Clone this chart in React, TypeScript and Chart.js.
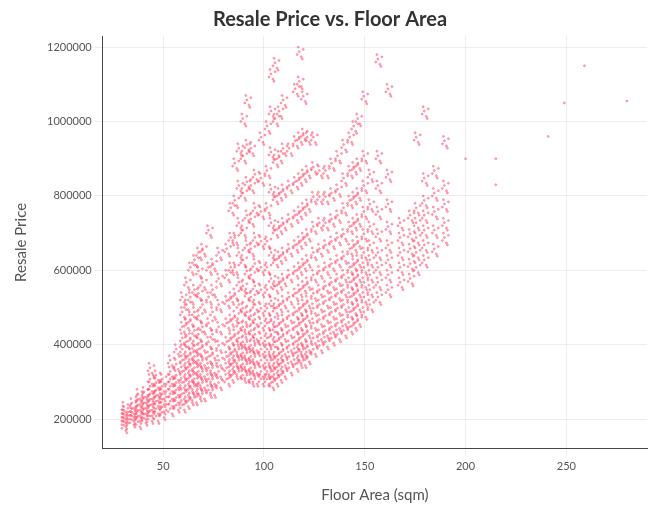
import { useEffect, useRef } from 'react';
import Chart from 'chart.js/auto';

// floor areas (sqm) and the resale prices (in thousands) seen at each
const floorAreas = [31, 35, 38, 41, 44, 47, 50, 54, 57, 60, 62, 64, 66, 68, 70, 73, 75, 78, 82, 84, 86, 88, 90, 92, 94, 96, 99, 102, 104, 106, 108, 110, 113, 116, 118, 120, 122, 125, 128, 131, 134, 137, 140, 143, 145, 147, 150, 153, 157, 162, 168, 173, 176, 180, 185, 190];
const pricesK = [
  [175, 185, 195, 205, 215, 225],
  [190, 200, 210, 220, 235],
  [185, 200, 215, 230, 245, 260],
  [195, 205, 220, 235, 250, 265],
  [200, 215, 230, 245, 260, 280, 300, 330],
  [200, 220, 240, 255, 270, 290, 310],
  [210, 225, 245, 260, 280, 300],
  [220, 240, 260, 280, 300, 320, 350],
  [230, 250, 270, 290, 310, 340, 380],
  [230, 260, 290, 320, 350, 380, 410, 440, 480, 520],
  [240, 270, 300, 330, 360, 400, 450, 500, 560],
  [250, 280, 310, 340, 370, 410, 460, 520, 600],
  [250, 280, 300, 330, 360, 390, 430, 480, 540, 620],
  [260, 290, 320, 350, 380, 420, 470, 530, 590, 640],
  [260, 290, 320, 350, 390, 440, 500, 560, 650],
  [270, 300, 330, 360, 400, 450, 520, 600, 700],
  [270, 300, 330, 370, 420, 480, 540, 610],
  [290, 320, 350, 390, 440, 500, 570, 640],
  [300, 330, 360, 400, 450, 510, 580, 650],
  [310, 340, 370, 410, 460, 520, 600, 680, 760],
  [320, 350, 380, 420, 470, 530, 600, 680, 780, 880],
  [320, 350, 380, 410, 450, 500, 560, 640, 720, 820, 920],
  [310, 340, 370, 400, 440, 490, 550, 620, 700, 800, 900, 1000],
  [310, 340, 370, 400, 440, 480, 530, 590, 660, 740, 830, 930, 1050],
  [300, 330, 360, 390, 430, 470, 520, 580, 650, 730, 820, 920],
  [300, 330, 360, 390, 420, 460, 500, 550, 610, 680, 760, 850],
  [300, 320, 350, 380, 410, 450, 490, 540, 600, 670, 750, 840, 950],
  [300, 320, 350, 380, 410, 450, 490, 540, 600, 670, 760, 860, 980],
  [290, 320, 350, 380, 420, 460, 510, 570, 640, 720, 810, 910, 1020, 1120],
  [300, 330, 360, 400, 440, 490, 550, 620, 700, 790, 890, 1000, 1150],
  [310, 340, 370, 410, 450, 500, 560, 630, 710, 800, 900, 1020],
  [320, 350, 380, 420, 460, 510, 570, 640, 720, 810, 920, 1050],
  [330, 360, 390, 430, 470, 520, 580, 650, 730, 820, 920],
  [340, 370, 400, 440, 480, 530, 590, 660, 740, 830, 940, 1080],
  [350, 380, 410, 450, 490, 540, 600, 670, 750, 840, 950, 1100, 1180],
  [350, 380, 420, 460, 500, 550, 610, 680, 760, 850, 960, 1060],
  [360, 390, 430, 470, 510, 560, 620, 690, 770, 860, 950],
  [380, 410, 450, 490, 530, 580, 640, 710, 790, 870, 950],
  [390, 420, 460, 500, 540, 590, 650, 720, 790, 860],
  [400, 430, 470, 510, 550, 600, 660, 720, 790, 860],
  [410, 440, 480, 520, 560, 610, 670, 730, 800, 880],
  [420, 450, 490, 530, 570, 620, 680, 740, 810, 900],
  [430, 460, 500, 540, 580, 630, 690, 760, 840, 930],
  [440, 480, 520, 560, 600, 650, 710, 780, 860, 950],
  [450, 490, 530, 570, 610, 660, 720, 790, 870, 980],
  [460, 500, 540, 580, 620, 670, 730, 800, 880, 1000],
  [480, 520, 560, 600, 640, 690, 750, 820, 900, 1060],
  [500, 540, 580, 620, 660, 710, 770, 850],
  [520, 560, 600, 640, 690, 750, 820, 900, 1160],
  [540, 580, 620, 660, 710, 770, 850, 1080],
  [560, 600, 640, 680, 720],
  [570, 610, 650, 690, 740],
  [600, 640, 680, 720, 760, 950],
  [620, 660, 700, 740, 780, 840, 1020],
  [650, 700, 750, 800, 860],
  [680, 720, 770, 820, 940],
];
// a few scattered large flats
const outlierAreas = [200, 215, 215, 241, 249, 259, 280];
const outlierPricesK = [900, 900, 830, 960, 1050, 1150, 1055];

const yTicks = [200000, 400000, 600000, 800000, 1000000, 1200000];
const xTicks = [50, 100, 150, 200, 250];

// each reading stands for a small cluster of sales around it
const clusterDx = [-1.5, -0.5, 0.5, 1.5, -1, 1];
const clusterDyK = [0, 8, -6, 14, 20, -12];

const points: { x: number; y: number }[] = [];
floorAreas.forEach((a, i) => {
  pricesK[i].forEach(p => {
    clusterDx.forEach((dx, k) => points.push({ x: a + dx, y: (p + clusterDyK[k]) * 1000 }));
  });
});
outlierAreas.forEach((a, i) => points.push({ x: a, y: outlierPricesK[i] * 1000 }));

export default function App() {
  const chartRef = useRef<HTMLCanvasElement>(null);
  const chartInstance = useRef<Chart | null>(null);

  useEffect(() => {
    if (!chartRef.current) return;
    if (chartInstance.current) chartInstance.current.destroy();
    const ctx = chartRef.current.getContext('2d');
    if (!ctx) return;

    const tickFont = { family: 'Lato', size: 11 };
    const titleFont = { family: 'Lato', size: 15 };

    chartInstance.current = new Chart(ctx, {
      type: 'scatter',
      data: {
        datasets: [
          {
            data: points,
            backgroundColor: 'rgba(255, 80, 110, 0.45)',
            borderColor: 'rgba(255, 80, 110, 0.45)',
            pointRadius: 1,
          },
        ],
      },
      options: {
        responsive: true,
        maintainAspectRatio: false,
        animation: false,
        plugins: {
          legend: { display: false },
          tooltip: { enabled: false },
          title: {
            display: true,
            text: 'Resale Price vs. Floor Area',
            color: '#333',
            font: { family: 'Lato', size: 20, weight: 'bold' },
            padding: { top: 0, bottom: 4 },
          },
        },
        scales: {
          x: {
            min: 20,
            max: 290,
            grid: { color: 'rgba(0,0,0,0.07)' },
            border: { color: '#444' },
            ticks: { color: '#555', font: tickFont },
            afterBuildTicks: (axis: any) => {
              axis.ticks = xTicks.map(v => ({ value: v }));
            },
            title: { display: true, text: 'Floor Area (sqm)', color: '#555', font: titleFont, padding: { top: 10 } },
          },
          y: {
            min: 120000,
            max: 1230000,
            grid: { color: 'rgba(0,0,0,0.07)' },
            border: { color: '#444' },
            ticks: { color: '#555', font: tickFont, callback: (v: any) => String(v) },
            afterBuildTicks: (axis: any) => {
              axis.ticks = yTicks.map(v => ({ value: v }));
            },
            title: { display: true, text: 'Resale Price', color: '#555', font: titleFont, padding: { bottom: 14 } },
          },
        },
      },
    });

    return () => {
      if (chartInstance.current) chartInstance.current.destroy();
    };
  }, []);

  return (
    <div style={{ width: 644, height: 500 }}>
      <canvas ref={chartRef} />
    </div>
  );
}
